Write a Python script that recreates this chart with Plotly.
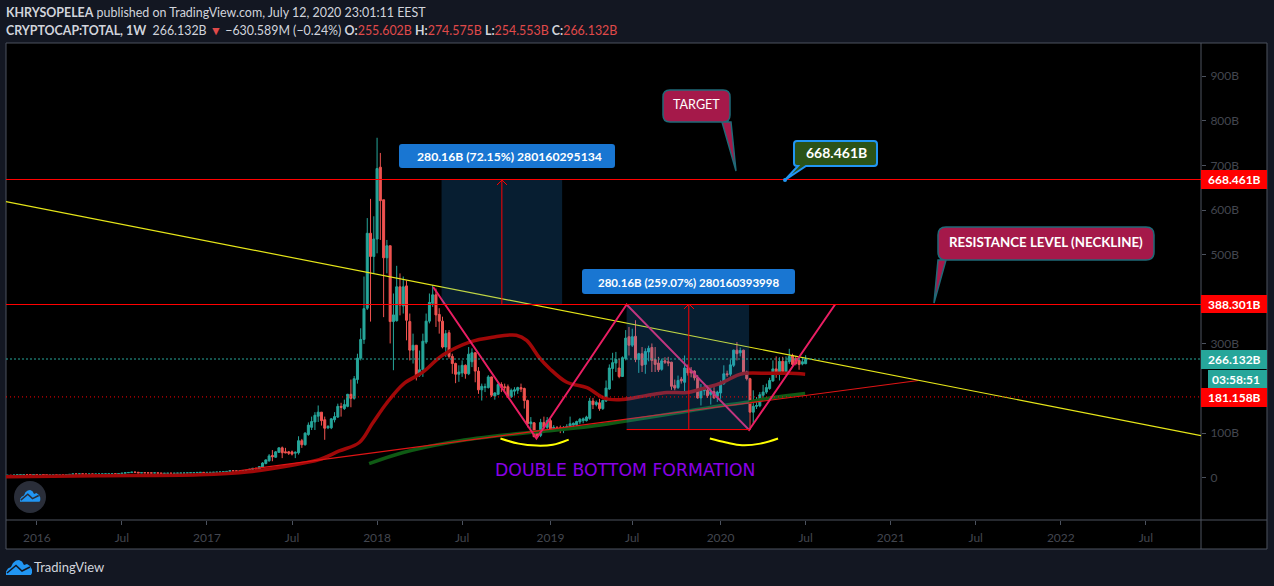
import pandas as pd
import plotly.graph_objects as go

# ---------- values in billions ----------
candle_open = [
    5.3,5.5,5.2,6.0,6.5,6.7,6.9,6.8,6.7,7.3,7.1,7.2,6.6,5.9,6.3,6.4,6.3,6.5,6.3,7.2,7.6,8.5,8.2,8.6,8.3,8.0,8.3,8.0,8.2,8.3,8.4,8.5,8.6,8.8,8.7,9.3,10.2,11.2,11.8,12.5,12.3,10.9,11.2,11.0,10.8,10.6,10.9,10.4,9.9,10.0,10.1,10.0,10.1,10.3,10.4,10.6,10.8,11.1,11.3,11.9,12.1,11.8,12.0,12.0,12.3,12.5,12.9,13.5,14.2,15.6,15.4,14.9,15.1,15.8,
    16.5,19,21,20,24,32,38,50,46,57,67,58,58,58,55,56,83,74,97,113,125,138,147,130,112,112,130,136,160,155,160,187,178,220,268,310,380,548,496,535,
    696,623,493,520,350,352,428,385,430,350,286,297,230,242,304,351,391,410,366,
    351,293,325,272,256,232,235,252,233,260,280,239,197,202,202,226,183,187,209,204,204,181,194,196,202,200,173,121,123,100,95,124,113,128,110,112,112,107,111,115,118,119,125,128,128,133,172,164,168,
    155,172,199,245,257,246,227,267,316,297,317,265,278,254,282,292,265,257,243,262,260,259,207,202,221,214,246,240,239,224,179,195,196,187,193,180,190,211,233,232,252,286,280,286,237,222,147,160,161,185,192,200,217,244,235,261,237,260,274,267,263,255,255.602,
]
candle_high = [
    6.0,6.2,6.5,7.1,7.2,7.4,7.3,7.2,7.8,7.7,7.7,7.4,6.9,6.7,6.8,6.9,6.9,6.9,7.6,8.0,8.9,8.9,9.1,9.0,8.6,8.7,8.6,8.6,8.7,8.8,8.9,9.0,9.2,9.2,9.8,10.7,11.7,12.3,13.1,13.2,12.6,11.8,11.6,11.4,11.2,11.3,11.1,10.6,10.4,10.5,10.5,10.5,10.7,10.8,11.0,11.2,11.5,11.8,12.4,12.6,12.4,12.4,12.5,12.7,13.0,13.4,14.0,14.8,16.5,16.6,15.9,15.6,16.4,17.1,
    20,22,23,25,35,41,53,62,60,68,70,67,60,61,59,93,87,102,124,137,147,162,147,137,118,134,147,166,168,175,188,220,228,278,335,451,582,625,586,762,
    728,623,533,520,413,475,458,451,442,368,323,297,285,323,368,413,432,424,380,
    361,331,331,278,258,252,263,254,293,290,282,248,211,211,230,227,192,214,214,211,209,200,203,204,211,202,175,136,125,102,132,137,136,132,118,116,117,116,120,137,124,128,134,135,139,179,179,173,177,
    175,218,254,280,282,267,272,331,338,334,353,280,293,290,296,301,293,271,267,270,271,260,220,229,226,274,254,248,241,230,210,207,207,207,203,195,218,252,240,265,287,304,292,287,240,224,196,181,192,208,211,224,263,272,270,271,272,289,278,273,272,270,274.575,
]
candle_low = [
    4.9,4.8,4.9,5.8,6.2,6.4,6.5,6.3,6.4,6.8,6.7,6.3,5.5,5.6,6.0,6.0,6.1,5.9,6.0,6.9,7.3,7.7,7.9,8.0,7.6,7.8,7.6,7.7,7.9,8.0,8.1,8.2,8.3,8.2,8.4,8.9,9.8,10.8,11.5,11.8,10.2,10.5,10.6,10.4,10.2,10.3,10.0,9.4,9.5,9.7,9.6,9.7,9.9,10.0,10.2,10.4,10.6,10.9,11.0,11.6,11.4,11.5,11.6,11.8,12.0,12.3,12.6,13.1,13.8,14.8,14.2,14.5,14.8,15.4,
    15,17,18,19,22,30,36,37,45,56,44,55,51,50,44,52,67,72,94,107,107,125,117,85,109,109,124,134,137,152,158,158,175,211,263,300,376,350,458,503,
    533,360,458,301,241,350,364,368,308,263,256,218,226,226,300,346,383,338,323,
    290,271,267,233,212,215,226,222,230,248,214,188,173,192,200,181,175,185,192,192,179,179,184,188,192,155,113,110,91,89,91,109,109,106,105,106,100,100,108,110,112,116,120,122,126,130,154,160,150,
    152,170,197,218,237,223,226,263,274,293,259,235,237,233,261,237,237,237,240,255,250,197,196,199,211,192,229,225,218,177,162,185,179,164,177,170,177,208,226,227,248,263,272,233,218,107,121,154,158,177,188,197,215,224,218,235,235,255,250,252,242,252,254.553,
]
candle_close = [
    5.5,5.2,6.0,6.5,6.7,6.9,6.8,6.7,7.3,7.1,7.2,6.6,5.9,6.3,6.4,6.3,6.5,6.3,7.2,7.6,8.5,8.2,8.6,8.3,8.0,8.3,8.0,8.2,8.3,8.4,8.5,8.6,8.8,8.7,9.3,10.2,11.2,11.8,12.5,12.3,10.9,11.2,11.0,10.8,10.6,10.9,10.4,9.9,10.0,10.1,10.0,10.1,10.3,10.4,10.6,10.8,11.1,11.3,11.9,12.1,11.8,12.0,12.0,12.3,12.5,12.9,13.5,14.2,15.6,15.4,14.9,15.1,15.8,16.5,
    19,21,20,25,33,40,49,47,58,67,56,56,55,53,57,83,74,100,118,126,140,147,128,111,115,132,137,160,158,164,187,178,222,268,310,379,548,496,535,693,
    621,493,520,350,365,428,387,428,353,286,297,230,242,306,351,393,410,365,351,
    293,323,272,256,232,237,252,233,277,280,239,197,205,204,226,185,190,209,203,202,181,196,197,202,199,173,121,125,92,93,124,113,128,108,113,110,106,113,115,121,122,126,131,132,136,172,164,169,155,
    173,201,246,258,265,227,269,313,297,316,265,278,252,283,290,263,254,242,262,259,257,205,201,218,217,246,235,235,224,179,196,199,184,193,179,192,213,233,231,253,286,278,285,237,222,147,160,162,186,192,202,218,244,235,261,238,261,272,254,256,254,260,266.132,
]
assert len(candle_open) == len(candle_high) == len(candle_low) == len(candle_close)
last_week = "2020-07-06"
candle_dates = pd.date_range(end=last_week, periods=len(candle_close), freq="7D").strftime("%Y-%m-%d").tolist()

ma_red_dates = ["2015-10-27","2016-05-15","2016-12-16","2017-04-02","2017-06-27","2017-08-30","2017-10-12","2017-11-24","2017-12-22","2018-01-21","2018-02-28","2018-04-08","2018-05-21","2018-07-18","2018-09-05","2018-10-26","2018-11-17","2018-12-15","2019-01-05","2019-02-11","2019-03-26","2019-05-03","2019-06-11","2019-08-01","2019-09-13","2019-10-26","2019-11-29","2020-01-11","2020-02-10","2020-02-27","2020-04-21","2020-06-03","2020-07-05"]
ma_red_values = [2.25,4.5,6.75,13.5,27,40.5,60,79,121.5,166.5,211.5,236,274.5,304,315,319.5,308,268,245,214,202,178,175.5,184.5,191,191,200,214,229.5,234,234,234,232]
ma_green_dates = ["2017-12-15","2018-02-24","2018-06-05","2018-09-20","2018-12-15","2019-04-01","2019-06-11","2019-09-26","2020-01-11","2020-03-03","2020-04-27","2020-07-05"]
ma_green_values = [31.5,56,79,94.5,103.5,115,126,144,162,169,180,189]

yellow_dates = ["2015-10-30","2022-10-30"]
yellow_values = [619,94.5]
support_dates = ["2017-03-11","2021-03-04"]
support_values = [15.75,218]
zigzag_dates = ["2018-05-01","2018-12-08","2019-06-19","2020-03-07","2020-09-07"]
zigzag_values = [427.5,88,388.3,107,388.3]
arc1_dates = ["2018-09-22","2018-10-31","2018-12-08","2019-01-12","2019-02-15"]
arc1_values = [88,76.5,72,74,85.5]
arc2_dates = ["2019-12-14","2020-01-18","2020-02-21","2020-03-31","2020-05-08"]
arc2_values = [88,79,73,76.5,88]

level_target = 668.461
level_neck = 388.301
level_last = 266.132
level_dotted = 181.158
proj1_dates = ["2018-05-19","2019-02-01"]
proj1_arrow_date = "2018-09-25"
proj2_dates = ["2019-06-19","2020-03-07"]
proj2_arrow_date = "2019-10-30"
proj2_bottom = 108

x_tick_dates = ["2016-01-04","2016-07-04","2017-01-02","2017-07-03","2018-01-01","2018-07-02","2019-01-07","2019-07-01","2020-01-06","2020-07-06","2021-01-04","2021-07-05","2022-01-03","2022-07-04"]
x_tick_text = ["2016","Jul","2017","Jul","2018","Jul","2019","Jul","2020","Jul","2021","Jul","2022","Jul"]
y_tick_vals = [0,100,300,500,600,700,800,900]
y_tick_text = ["0","100B","300B","500B","600B","700B","800B","900B"]

# ---------- layout helpers (screen pixels to paper fractions) ----------
L, R, T, B = 6, 1201, 43, 520
fx = lambda p: (p - L) / (R - L)
fy = lambda p: (B - p) / (B - T)
BG, FRAME, TEAL, CANDLE_RED, RED = "#131722", "#4c525e", "#26a69a", "#ef5350", "#ff0000"
FONT, AXTXT = "Lato", "#43464f"

def pt(x, y):
    return f"{fx(x):.5f},{fy(y):.5f}"

def poly(points, close=True):
    s = "M" + " L".join(pt(*p) for p in points)
    return s + (" Z" if close else "")

def callout(x0, y0, x1, y1, r, tail):
    a, b, tx, ty = tail
    return (f"M{pt(x0+r,y0)} L{pt(x1-r,y0)} Q{pt(x1,y0)} {pt(x1,y0+r)} L{pt(x1,y1-r)} Q{pt(x1,y1)} {pt(x1-r,y1)} "
            f"L{pt(b,y1)} L{pt(tx,ty)} L{pt(a,y1)} L{pt(x0+r,y1)} Q{pt(x0,y1)} {pt(x0,y1-r)} L{pt(x0,y0+r)} Q{pt(x0,y0)} {pt(x0+r,y0)} Z")

def rrect(x0, y0, x1, y1, r):
    return (f"M{pt(x0+r,y0)} L{pt(x1-r,y0)} Q{pt(x1,y0)} {pt(x1,y0+r)} L{pt(x1,y1-r)} Q{pt(x1,y1)} {pt(x1-r,y1)} "
            f"L{pt(x0+r,y1)} Q{pt(x0,y1)} {pt(x0,y1-r)} L{pt(x0,y0+r)} Q{pt(x0,y0)} {pt(x0+r,y0)} Z")

def cloud(x, y, s):
    return ("M" + " L".join(pt(x + a * s, y + b * s) for a, b in
            [(0,15),(0,11.5),(2,8.5),(5,7),(7,3),(10,0.5),(13,0),(16,1.5),(18,5),(21,4),(24,6),(26,9.5),(26,13),(25,15)]) + " Z")

def cloud_line(x, y, s):
    return "M" + " L".join(pt(x + a * s, y + b * s) for a, b in [(1,13),(10,5.5),(16,11),(24,7)])

shapes = []
def add_path(path, fill=None, line=None, width=1, layer="above"):
    shapes.append(dict(type="path", xref="paper", yref="paper", path=path, layer=layer,
                       fillcolor=fill or "rgba(0,0,0,0)",
                       line=dict(color=line or "rgba(0,0,0,0)", width=width if line else 0)))

# chart frame and black panels
add_path(poly([(L,T),(1267,T),(1267,549),(L,549)]), fill="#000000", line=FRAME, layer="below")
add_path(poly([(R,T),(R,549)], close=False), line=FRAME, layer="below")
add_path(poly([(L,B),(1267,B)], close=False), line=FRAME, layer="below")

# projection boxes, drawn over the candles
shapes.append(dict(type="rect", xref="x", yref="y", x0=proj1_dates[0], x1=proj1_dates[1], y0=level_neck, y1=level_target,
                   fillcolor="rgba(33,150,243,0.2)", line=dict(width=0), layer="above"))
shapes.append(dict(type="rect", xref="x", yref="y", x0=proj2_dates[0], x1=proj2_dates[1], y0=proj2_bottom, y1=level_neck,
                   fillcolor="rgba(33,150,243,0.2)", line=dict(width=0), layer="above"))

def hline(level, color, dash, width=1):
    shapes.append(dict(type="line", xref="paper", yref="y", x0=0, x1=1, y0=level, y1=level,
                       line=dict(color=color, dash=dash, width=width), layer="above"))
hline(level_target, RED, "solid")
hline(level_neck, RED, "solid")
hline(level_last, TEAL, "2px,2px")
hline(level_dotted, RED, "1px,3px")

for d, v0, v1 in [(proj1_arrow_date, level_neck, level_target), (proj2_arrow_date, proj2_bottom, level_neck)]:
    shapes.append(dict(type="line", xref="x", yref="y", x0=d, x1=d, y0=v0, y1=v1, line=dict(color=RED, width=1), layer="above"))
shapes.append(dict(type="line", xref="x", yref="y", x0=proj2_dates[0], x1=proj2_dates[1], y0=proj2_bottom, y1=proj2_bottom,
                   line=dict(color=RED, width=1), layer="above"))
add_path(poly([(497,185),(502,180),(507,185)], close=False), line=RED)
add_path(poly([(684,309),(689,304),(694,309)], close=False), line=RED)

# price-scale tags
for y0, y1, x0, col in [(170,189,1201,RED),(295,313,1201,RED),(350,369,1201,TEAL),(370,388,1208,TEAL),(388,407,1201,RED)]:
    add_path(poly([(x0,y0),(1267,y0),(1267,y1),(x0,y1)]), fill=col)

# blue measure labels
add_path(rrect(399,144,615,168,3), fill="#1976d2")
add_path(rrect(582,269,795,294,3), fill="#1976d2")

# callouts
add_path(callout(663,90,730,122,7,(722,731,736,171)), fill="#a5194a", line="#1f6a78", width=1.5)
add_path(callout(938,227,1154,260,8,(938,946,934,303)), fill="#a5194a", line="#1f6a78", width=1.5)
add_path(callout(794,141,877,166,3,(798,806,785,180)), fill="#2b5318", line="#2196f3", width=2)
shapes.append(dict(type="circle", xref="paper", yref="paper", x0=fx(783), x1=fx(787), y0=fy(182), y1=fy(178),
                   fillcolor="#2196f3", line=dict(width=0), layer="above"))

# logos
shapes.append(dict(type="circle", xref="paper", yref="paper", x0=fx(14), x1=fx(46), y0=fy(513), y1=fy(481),
                   fillcolor="#2a2e39", line=dict(width=0), layer="above"))
add_path(cloud(20, 490, 0.78), fill="#2196f3")
add_path(cloud_line(20, 490, 0.78), line="#2a2e39", width=1.5)
add_path(cloud(6, 560, 1.0), fill="#2196f3")
add_path(cloud_line(6, 560, 1.0), line=BG, width=1.5)

# ---------- text ----------
ann = []
def text(x, y, s, size=12, color="#ffffff", anchor="center", font=FONT):
    ann.append(dict(xref="paper", yref="paper", x=fx(x), y=fy(y), text=s, showarrow=False, xanchor=anchor, yanchor="middle",
                    font=dict(family=font, size=size, color=color), borderpad=0, borderwidth=0))

HDR = "#d1d4dc"
text(6, 12, "<b>KHRYSOPELEA</b> published on TradingView.com, July 12, 2020 23:01:11 EEST", size=12.45, color=HDR, anchor="left")
P = "#e04a4a"
text(6, 30, f"<b>CRYPTOCAP:TOTAL, 1W</b>  266.132B <span style='color:{P}'>▼</span> −630.589M (−0.24%) "
            f"<b>O:</b><span style='color:{P}'>255.602B</span> <b>H:</b><span style='color:{P}'>274.575B</span> "
            f"<b>L:</b><span style='color:{P}'>254.553B</span> <b>C:</b><span style='color:{P}'>266.132B</span>",
     size=12.4, color=HDR, anchor="left")
text(509, 156, "<b>280.16B (72.15%) 280160295134</b>", size=12.2)
text(688.5, 282, "<b>280.16B (259.07%) 280160393998</b>", size=11.5)
text(696.5, 104, "TARGET", size=12.6)
text(1045.5, 242, "<b>RESISTANCE LEVEL (NECKLINE)</b>", size=13.3)
text(836, 152, "<b>668.461B</b>", size=14)
for y, s in [(179.5,"668.461B"),(304,"388.301B"),(359.5,"266.132B"),(397.5,"181.158B")]:
    text(1234, y, f"<b>{s}</b>")
text(1236, 379, "<b>03:58:51</b>")
text(625, 470, "DOUBLE BOTTOM FORMATION", size=17.3, color="#8a00e6", font="DejaVu Sans")
text(34, 567, "TradingView", size=13, color="#d1d4dc", anchor="left")

# ---------- figure ----------
fig = go.Figure()
fig.add_trace(go.Scatter(x=ma_red_dates, y=ma_red_values, mode="lines", line=dict(color="#a00808", width=3.5, shape="spline"), hoverinfo="skip"))
fig.add_trace(go.Scatter(x=ma_green_dates, y=ma_green_values, mode="lines", line=dict(color="#0f5a14", width=3.5, shape="spline"), hoverinfo="skip"))
fig.add_trace(go.Candlestick(x=candle_dates, open=candle_open, high=candle_high, low=candle_low, close=candle_close,
                             increasing=dict(line=dict(color=TEAL, width=1), fillcolor=TEAL),
                             decreasing=dict(line=dict(color=CANDLE_RED, width=1), fillcolor=CANDLE_RED),
                             whiskerwidth=0, hoverinfo="skip"))
fig.add_trace(go.Scatter(x=support_dates, y=support_values, mode="lines", line=dict(color="#e01515", width=1.2), hoverinfo="skip"))
fig.add_trace(go.Scatter(x=yellow_dates, y=yellow_values, mode="lines", line=dict(color="#e6e619", width=1.2), hoverinfo="skip"))
fig.add_trace(go.Scatter(x=zigzag_dates, y=zigzag_values, mode="lines", line=dict(color="#e91e63", width=2), hoverinfo="skip"))
fig.add_trace(go.Scatter(x=arc1_dates, y=arc1_values, mode="lines", line=dict(color="#ffff00", width=2, shape="spline"), hoverinfo="skip"))
fig.add_trace(go.Scatter(x=arc2_dates, y=arc2_values, mode="lines", line=dict(color="#ffff00", width=2, shape="spline"), hoverinfo="skip"))

fig.update_layout(
    width=1274, height=586, autosize=False, showlegend=False, boxgap=0.12,
    margin=dict(l=L, r=1274 - R, t=T, b=586 - B, pad=0),
    paper_bgcolor=BG, plot_bgcolor="rgba(0,0,0,0)",
    shapes=shapes, annotations=ann, hovermode=False,
    font=dict(family=FONT, size=12, color=AXTXT),
    xaxis=dict(type="date", range=["2015-10-30","2022-10-30"], rangeslider=dict(visible=False),
               tickmode="array", tickvals=x_tick_dates, ticktext=x_tick_text, ticks="outside", ticklen=4,
               tickcolor=FRAME, showgrid=False, zeroline=False, showline=False, ticklabelstandoff=3,
               tickfont=dict(family=FONT, size=12, color=AXTXT)),
    yaxis=dict(side="right", range=[-94.7, 974.4], tickmode="array", tickvals=y_tick_vals, ticktext=y_tick_text,
               ticks="outside", ticklen=4, tickcolor=FRAME, showgrid=False, zeroline=False, showline=False,
               ticklabelstandoff=2, tickfont=dict(family=FONT, size=12, color=AXTXT)),
)
fig.write_html("out.html", config=dict(displayModeBar=False),
               post_script="document.body.style.margin='0';document.body.style.background='#131722';")
